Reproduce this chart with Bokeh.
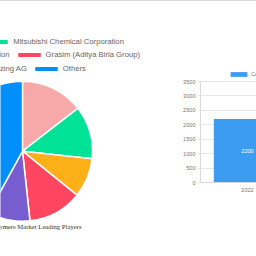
import numpy as np
from bokeh.plotting import figure
from bokeh.models import (Range1d, Legend, LegendItem, ColumnDataSource, Label,
                          FixedTicker)
from bokeh.layouts import row
from bokeh.embed import file_html
from bokeh.resources import INLINE
from bokeh.core.properties import value

# ---- data: pie (leading players) ----
players = ["Eastman", "Mitsubishi Chemical Corporation", "Celanese Corporation",
           "Grasim (Aditya Birla Group)", "Lenzing AG", "Others"]
shares = [14.5, 12.2, 9.1, 12.5, 9.7, 42.0]
colors = ["#f7a8a8", "#00e396", "#feb019", "#ff4560", "#775dd0", "#008ffb"]
pie_title = "Cellulose Polymers Market Leading Players"

# ---- data: bar (market size) ----
years = [2022]
market_size = [2200]
series_name = "Cellulose Polymers Market Size"
y_ticks = [0, 500, 1000, 1500, 2000, 2500, 3000, 3500]

FONT = "Liberation Sans"

# ---------------- left: pie ----------------
left = figure(width=170, height=255, x_range=Range1d(0, 170), y_range=Range1d(0, 255),
              output_backend="svg", toolbar_location=None, min_border=0)
left.frame_align = False
left.axis.visible = False
left.grid.visible = False
left.outline_line_color = None

frac = np.array(shares) / np.sum(shares)
cum = np.concatenate([[0.0], np.cumsum(frac)])
src = ColumnDataSource(dict(name=players, share=shares, color=colors,
                            start=np.pi / 2 - cum[:-1] * 2 * np.pi,
                            end=np.pi / 2 - cum[1:] * 2 * np.pi))
w = left.wedge(x=22, y=105.3, radius=70, radius_units="screen",
               start_angle="start", end_angle="end", direction="clock",
               fill_color="color", line_color="white", line_width=1.5, source=src)

row_pairs = [(0, 1), (2, 3), (4, 5)]
row_locs = [(-85.1, 210.5), (-97.2, 197.3), (-44.9, 182.8)]
for (i, j), loc in zip(row_pairs, row_locs):
    lg = Legend(items=[LegendItem(label=players[i], renderers=[w], index=i),
                       LegendItem(label=players[j], renderers=[w], index=j)],
                orientation="horizontal", location=loc,
                glyph_width=30, glyph_height=7, label_standoff=2, spacing=4,
                padding=0, margin=0, label_height=9, label_width=0,
                border_line_color=None, background_fill_alpha=0,
                label_text_font_size="7.7px", label_text_color="#666666",
                label_text_font=FONT)
    left.add_layout(lg)

left.add_layout(Label(x=22, y=30.5, text=pie_title, text_align="center",
                      text_baseline="middle", text_font="Liberation Serif",
                      text_font_size="6.7px", text_color="#333333"))

# ---------------- right: bar ----------------
top_px, zero_px, max_px = 59, 181, 80   # frame top, y=0 line, y=3500 line (figure px)
y_end = y_ticks[-1] * (zero_px - top_px) / (zero_px - max_px)
right = figure(width=86, height=255, x_range=Range1d(2021.442, 2022.107),
               y_range=Range1d(0, y_end), min_border_left=30, min_border_right=0,
               min_border_top=top_px, min_border_bottom=255 - zero_px,
               output_backend="svg", toolbar_location=None)
right.frame_align = False
bars = right.vbar(x=years, top=market_size, width=0.8, fill_color="#3b9cf0",
                  line_color=None)
right.text(x=years, y=np.array(market_size) / 2, text=[str(v) for v in market_size],
           text_color="white", text_font_size="5.6px", text_align="center",
           text_baseline="middle", text_font=value(FONT))

right.yaxis.ticker = FixedTicker(ticks=y_ticks)
right.yaxis.bounds = (y_ticks[0], y_ticks[-1])
right.xaxis.ticker = FixedTicker(ticks=years)
right.xgrid.visible = False
right.ygrid.grid_line_color = "#e8e8e8"
right.outline_line_color = None
for ax in (right.yaxis[0], right.xaxis[0]):
    ax.axis_line_color = "#d9d9d9"
    ax.major_tick_line_color = "#e8e8e8"
    ax.minor_tick_line_color = None
    ax.major_tick_in = 0
    ax.major_label_text_font_size = "5.6px"
    ax.major_label_text_color = "#777777"
    ax.major_label_text_font = FONT
right.yaxis.major_tick_out = 3
right.yaxis.major_label_standoff = 2
right.xaxis.major_tick_out = 0
right.xaxis.major_label_standoff = 5

lg2 = Legend(items=[LegendItem(label=series_name, renderers=[bars])],
             location=(27.9, 105), glyph_width=21, glyph_height=6,
             label_standoff=2, padding=0, margin=0, label_height=7, label_width=0,
             border_line_color=None, background_fill_alpha=0,
             label_text_font_size="5.6px", label_text_color="#777777",
             label_text_font=FONT)
right.add_layout(lg2)

layout = row(left, right, styles={"border-top": "1px solid #d9d9d9"})

open("out.html", "w").write(file_html(layout, INLINE))
